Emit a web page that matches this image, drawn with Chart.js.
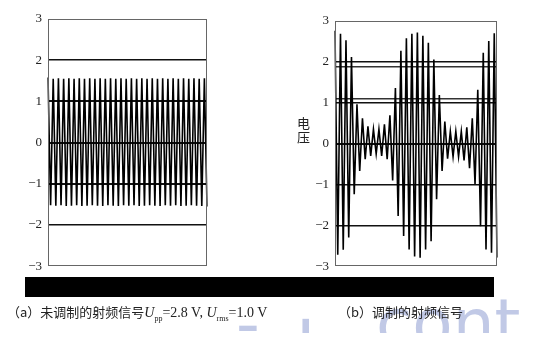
<!DOCTYPE html>
<html>
<head>
<meta charset="utf-8">
<script src="https://cdn.jsdelivr.net/npm/chart.js@4.4.1/dist/chart.umd.min.js"></script>
<style>
  body { margin: 0; width: 533px; height: 347px; background: #fff; position: relative; overflow: hidden; }
  canvas { position: absolute; top: 0; }
  #chartA { left: 0; }
  #chartB { left: 280px; }
  .ylab { position: absolute; left: 297px; top: 116px; font: 13px/14px "Noto Sans CJK SC"; color: #222; }
  .bar { position: absolute; left: 25px; top: 277px; width: 469px; height: 20px; background: #000; }
  .cap { position: absolute; top: 302px; font: 13px "Noto Sans CJK SC"; color: #222; white-space: nowrap; }
  .cap .lat { font: 14px "Liberation Serif"; }
  .cap sub { font: 8px "Liberation Serif"; }
  .capA { left: 7px; }
  .capB { left: 338px; }
  .wm { position: absolute; left: 0; top: 296px; width: 533px; height: 37px; overflow: hidden; pointer-events: none; }
  .wm span { position: absolute; top: -11px; font: 66px "DejaVu Sans"; color: #c1c9e6; }
</style>
</head>
<body>
<div class="wm"><span style="left:236px">-</span><span style="left:296px;top:10px">I</span><span style="left:376px">cont</span></div>
<canvas id="chartA" width="215" height="280"></canvas>
<canvas id="chartB" width="222" height="280"></canvas>
<div class="ylab">电<br>压</div>
<div class="bar"></div>
<div class="cap capA">（a）未调制的射频信号<span class="lat"><i>U</i><sub>pp</sub>=2.8 V, <i>U</i><sub>rms</sub>=1.0 V</span></div>
<div class="cap capB">（b）调制的射频信号</div>
<script>
// y axis ticks shared by both panels
const yTicks = [-3, -2, -1, 0, 1, 2, 3];

// (a) unmodulated carrier, peak / trough values in order
const signalA = [
    1.58, -1.52, 1.55, -1.53, 1.56, -1.52, 1.55, -1.54, 1.56, -1.53,
    1.55, -1.52, 1.56, -1.54, 1.55, -1.53, 1.56, -1.52, 1.55, -1.53,
    1.56, -1.54, 1.55, -1.52, 1.56, -1.53, 1.55, -1.54, 1.56, -1.52,
    1.55, -1.53, 1.56, -1.52, 1.55, -1.54, 1.56, -1.53, 1.55, -1.52,
    1.56, -1.53, 1.55, -1.54, 1.56, -1.52, 1.55, -1.53, 1.56, -1.52,
    1.55, -1.54, 1.56, -1.53, 1.55, -1.52, 1.56, -1.53, 1.55, -1.54,
    1.56, -1.55
];

// (b) modulated signal, peak / trough values in order
const signalB = [
    2.76, -2.72, 2.69, -2.6, 2.53, -2.3, 2.12, -1.24, 0.96, -0.67,
    0.62, -0.38, 0.42, -0.3, 0.35, -0.25, 0.35, -0.3, 0.47, -0.38,
    0.69, -0.9, 1.36, -1.77, 2.27, -2.26, 2.58, -2.59, 2.69, -2.76,
    2.72, -2.79, 2.64, -2.59, 2.47, -2.39, 2.06, -1.36, 1.19, -0.67,
    0.54, -0.37, 0.3, -0.32, 0.3, -0.32, 0.3, -0.41, 0.4, -0.6,
    0.62, -0.99, 1.32, -2.02, 2.22, -2.59, 2.51, -2.67, 2.7, -2.79
];

// extra doubled reference lines seen in panel (b)
const extraLevelsB = [1.88, 1.1];

// draws the box round the plot area
const frame = {
    id: 'frame',
    afterDraw(chart) {
        const a = chart.chartArea;
        const c = chart.ctx;
        c.save();
        c.strokeStyle = '#666';
        c.lineWidth = 1;
        c.strokeRect(Math.round(a.left) + 0.5, Math.round(a.top) + 0.5,
            Math.round(a.right - a.left) - 1, Math.round(a.bottom - a.top) - 1);
        c.restore();
    }
};

function makeChart(id, values, opts) {
    const labels = values.map((_, i) => i);
    return new Chart(document.getElementById(id), {
        type: 'line',
        data: {
            labels: labels,
            datasets: [{
                data: values,
                borderColor: '#000',
                borderWidth: opts.lineWidth,
                pointRadius: 0,
                tension: 0,
                fill: false
            }]
        },
        options: {
            responsive: false,
            animation: false,
            devicePixelRatio: 1,
            layout: { padding: opts.padding },
            plugins: { legend: { display: false }, tooltip: { enabled: false } },
            scales: {
                x: { display: false, offset: false },
                y: {
                    min: -3,
                    max: 3,
                    afterBuildTicks: s => {
                        s.ticks = yTicks.concat(opts.extra || []).map(v => ({ value: v }));
                    },
                    afterFit: s => { s.width = opts.axisWidth; },
                    border: { display: false },
                    grid: {
                        drawTicks: false,
                        color: ctx => Number.isInteger(ctx.tick.value) ? '#111' : '#333',
                        lineWidth: ctx => opts.gridWidth(ctx.tick.value)
                    },
                    ticks: {
                        padding: 6,
                        color: '#222',
                        font: { family: 'Liberation Serif', size: 13 },
                        callback: v => yTicks.includes(v) ? String(v).replace('-', '\u2212') : ''
                    }
                }
            }
        },
        plugins: [frame]
    });
}

makeChart('chartA', signalA, {
    lineWidth: 1.6,
    padding: { left: 0, right: 8, top: 19, bottom: 13 },
    axisWidth: 48,
    gridWidth: v => Math.abs(v) === 3 ? 0 : (Math.abs(v) <= 1 ? 2 : 1.5)
});

makeChart('chartB', signalB, {
    lineWidth: 1.6,
    padding: { left: 0, right: 5, top: 21, bottom: 12 },
    axisWidth: 55,
    extra: extraLevelsB,
    gridWidth: v => Math.abs(v) === 3 ? 0 : (v === 0 ? 2 : 1.5)
});
</script>
</body>
</html>
